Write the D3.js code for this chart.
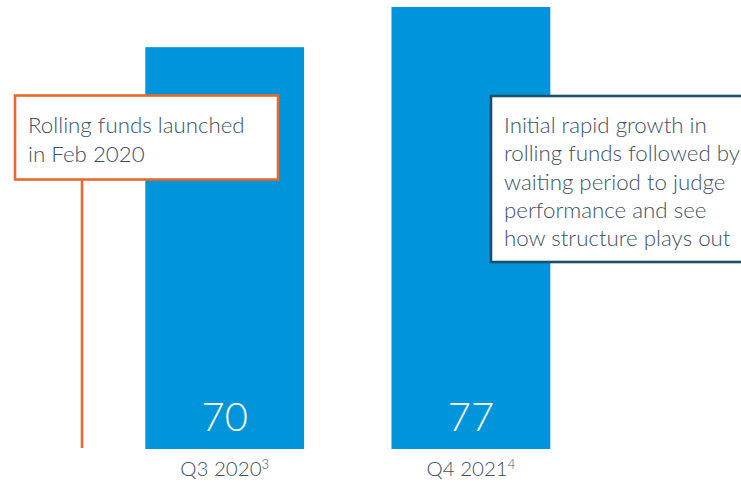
<!DOCTYPE html>
<html><head><meta charset="utf-8">
<script src="https://cdn.jsdelivr.net/npm/d3@7"></script>
<style>
html,body{margin:0;padding:0;background:#fff;}
svg{display:block;}
text{font-family:Lato,"Open Sans",sans-serif;}
</style></head>
<body>
<script>
const categories = ["Q3 2020", "Q4 2021"];
const footnotes = ["3", "4"];
const values = [70, 77];
const note1Lines = ["Rolling funds launched", "in Feb 2020"];
const note2Lines = ["Initial rapid growth in", "rolling funds followed by", "waiting period to judge", "performance and see", "how structure plays out"];

const W = 741, H = 483;
const svg = d3.select("body").append("svg").attr("width", W).attr("height", H);

const x = d3.scaleBand().domain(categories).range([145.3, 550.3]).paddingInner(0.355).paddingOuter(0);
const y = d3.scaleLinear().domain([0, 77]).range([449, 7]);

const barColor = "#0095da";
const textColor = "#3e5263";

svg.selectAll("rect.bar").data(values).join("rect")
  .attr("class", "bar")
  .attr("x", (d, i) => x(categories[i]))
  .attr("y", d => y(d))
  .attr("width", x.bandwidth())
  .attr("height", d => y(0) - y(d))
  .attr("fill", barColor);

svg.selectAll("text.val").data(values).join("text")
  .attr("class", "val")
  .attr("x", (d, i) => x(categories[i]) + x.bandwidth() / 2)
  .attr("y", 431)
  .attr("text-anchor", "middle")
  .attr("fill", "#fff")
  .attr("font-size", 40)
  .attr("font-weight", 300)
  .text(d => d);

const cat = svg.selectAll("text.cat").data(categories).join("text")
  .attr("class", "cat")
  .attr("x", d => x(d) + x.bandwidth() / 2)
  .attr("y", 476)
  .attr("text-anchor", "middle")
  .attr("fill", textColor)
  .attr("font-size", 20.5)
  .attr("font-weight", 300);
cat.append("tspan").text(d => d);
cat.append("tspan").attr("font-size", 13).attr("dy", -7).text((d, i) => footnotes[i]);

// annotation 1 (orange)
const orange = "#e8692b";
svg.append("line").attr("x1", 82).attr("x2", 82).attr("y1", 180).attr("y2", 448)
  .attr("stroke", orange).attr("stroke-width", 2.6);
svg.append("rect").attr("x", 15).attr("y", 95.5).attr("width", 263).attr("height", 84)
  .attr("fill", "#fff").attr("stroke", orange).attr("stroke-width", 2.6);
const t1 = svg.append("text").attr("x", 28).attr("y", 133).attr("fill", textColor)
  .attr("font-size", 22.3).attr("font-weight", 300);
t1.selectAll("tspan").data(note1Lines).join("tspan")
  .attr("x", 28).attr("dy", (d, i) => i ? 28.5 : 0).text(d => d);

// annotation 2 (navy)
const navy = "#1c4f6c";
svg.append("rect").attr("x", 491).attr("y", 96).attr("width", 270).attr("height", 166)
  .attr("fill", "#fff").attr("stroke", navy).attr("stroke-width", 2.6);
const t2 = svg.append("text").attr("x", 504).attr("y", 133).attr("fill", textColor)
  .attr("font-size", 22.3).attr("font-weight", 300);
t2.selectAll("tspan").data(note2Lines).join("tspan")
  .attr("x", 504).attr("dy", (d, i) => i ? 28.3 : 0).text(d => d);
</script>
</body></html>
